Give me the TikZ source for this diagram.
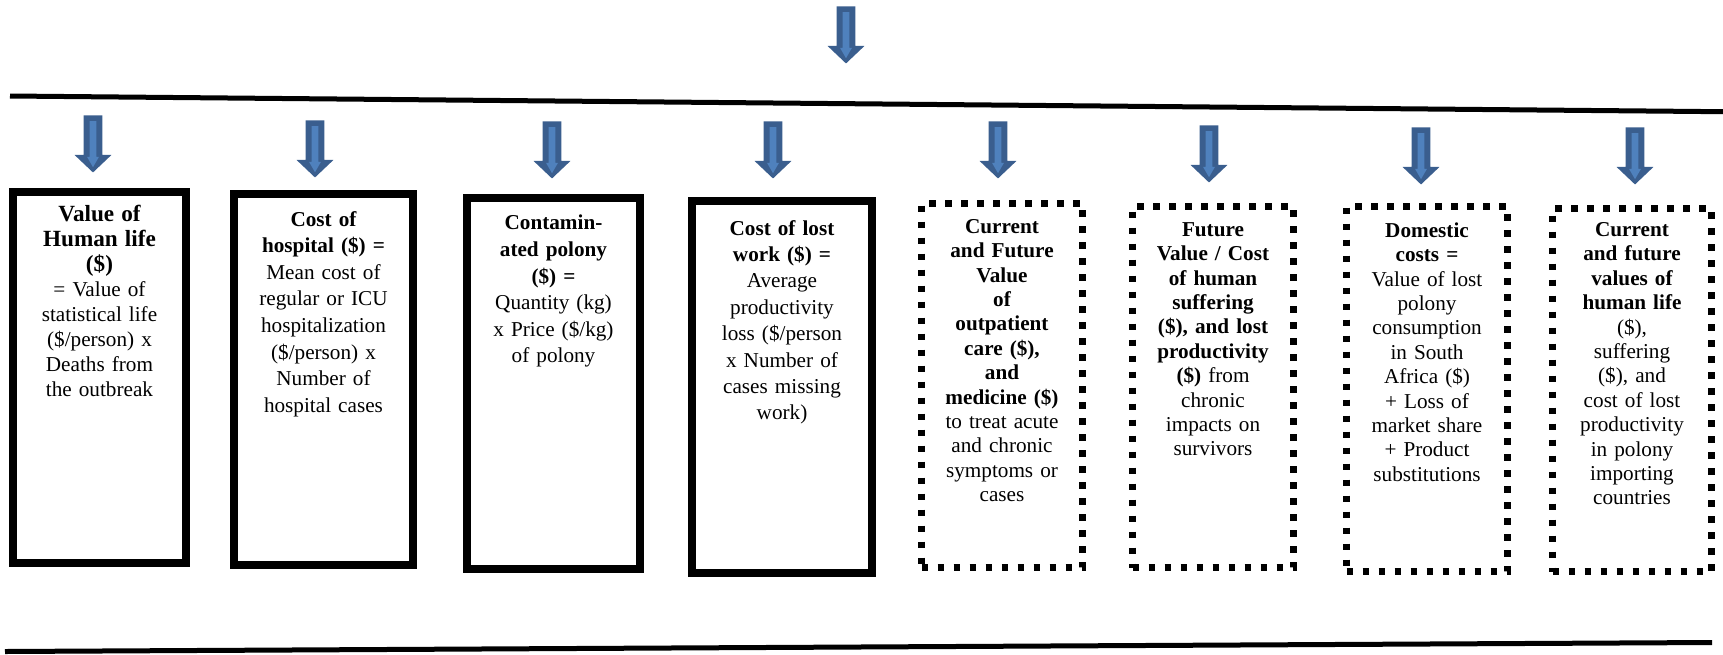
\documentclass[tikz,border=0pt]{standalone}
\usepackage{fontspec}
\setmainfont{Liberation Serif}
\usepackage{tikz}
\usetikzlibrary{shapes.arrows,positioning}
\definecolor{arrowfill}{HTML}{4F81BD}
\definecolor{arrowline}{HTML}{3A5E8E}

\begin{document}
\begin{tikzpicture}[x=0.5pt, y=-0.5pt,
    blockarrow/.style={single arrow, rotate=-90, fill=arrowline, draw=none,
        inner xsep=0pt, inner ysep=4.5pt, minimum height=28.5pt,
        single arrow head extend=4.5pt, single arrow head indent=0pt,
        single arrow tip angle=93},
    arrowshine/.style={single arrow, rotate=-90, fill=arrowfill, draw=none,
        inner xsep=0pt, inner ysep=1.5pt, minimum height=23pt,
        single arrow head extend=1.3pt, single arrow head indent=0pt,
        single arrow tip angle=60},
    solidbox/.style={draw, line width=4pt, inner sep=0pt},
    dotbox/.style={draw, line width=3.4pt, dash pattern=on 3.4pt off 4.6pt, inner sep=0pt},
    boxtext/.style={text width=80pt, align=center, inner sep=0pt,
        font=\fontsize{10.6}{#1}\selectfont}]
    \useasboundingbox (0,0) rectangle (1723,654);

    % Arrow on top and the two rules
    \node[blockarrow, anchor=tip] (a0) at (846,64) {};
    \node[arrowshine, anchor=tip] (a0s) at (846,59) {};
    \draw[line width=2.5pt] (10,96) -- (1723,111.7);
    \draw[line width=2.5pt] (5,651.5) -- (1712,642.5);

    % Arrows into the boxes
    \foreach \n/\x/\y in {1/93/173, 2/315/178, 3/552/179, 4/773/179,
                          5/998/179, 6/1209/183, 7/1421/185, 8/1635/185} {
        \node[blockarrow, anchor=tip] (a\n) at (\x,\y) {};
        \node[arrowshine, anchor=tip] (a\n s) at (\x,{\y-5}) {};
    }

    % Solid boxes
    \node[solidbox, minimum width=86.5pt, minimum height=185.5pt] (b1) at (99.5,377.5) {};
    \node[boxtext=12.5pt, below=8.6pt of b1.north] (t1)
        {{\fontsize{11.6}{12.5}\selectfont\bfseries Value of\\Human life\\(\$)}\\= Value of\\statistical life\\(\$/person) x\\Deaths from\\the outbreak};

    \node[solidbox, minimum width=89.5pt, minimum height=185.5pt] (b2) at (323.5,379.5) {};
    \node[boxtext=13.3pt, below=10.4pt of b2.north] (t2)
        {\textbf{Cost of\\hospital (\$) =}\\Mean cost of\\regular or ICU\\hospitalization\\(\$/person) x\\Number of\\hospital cases};

    \node[solidbox, minimum width=86.5pt, minimum height=185.5pt] (b3) at (553.5,383.5) {};
    \node[boxtext=13.3pt, below=10.4pt of b3.north] (t3)
        {\textbf{Contamin-\\ated polony\\(\$) =}\\Quantity (kg)\\x Price (\$/kg)\\of polony};

    \node[solidbox, minimum width=90pt, minimum height=186pt] (b4) at (782,387) {};
    \node[boxtext=13.2pt, below=11.4pt of b4.north] (t4)
        {\textbf{Cost of lost\\work (\$) =}\\Average\\productivity\\loss (\$/person\\x Number of\\cases missing\\work)};

    % Dotted boxes
    \node[dotbox, minimum width=80.5pt, minimum height=182pt] (b5) at (1002,385.5) {};
    \node[boxtext=12.2pt, below=9.35pt of b5.north] (t5)
        {\textbf{Current\\and Future\\Value\\of\\outpatient\\care (\$),\\and\\medicine (\$)}\\to treat acute\\and chronic\\symptoms or\\cases};

    \node[dotbox, minimum width=80.5pt, minimum height=180.5pt] (b6) at (1213,387) {};
    \node[boxtext=12.2pt, below=9.5pt of b6.north] (t6)
        {\textbf{Future\\Value / Cost\\of human\\suffering\\(\$), and lost\\productivity\\(\$)} from\\chronic\\impacts on\\survivors};

    \node[dotbox, minimum width=80.5pt, minimum height=182.5pt] (b7) at (1427,389) {};
    \node[boxtext=12.2pt, below=9.5pt of b7.north] (t7)
        {\textbf{Domestic\\costs =}\\Value of lost\\polony\\consumption\\in South\\Africa (\$)\\+ Loss of\\market share\\+ Product\hspace*{12pt}\\substitutions};

    \node[dotbox, minimum width=79.5pt, minimum height=181.5pt] (b8) at (1632,390) {};
    \node[boxtext=12.2pt, below=8.5pt of b8.north] (t8)
        {\textbf{Current\\and future\\values of\\human life}\\(\$),\\suffering\\(\$), and\\cost of lost\\productivity\\in polony\\importing\\countries};
\end{tikzpicture}
\end{document}
